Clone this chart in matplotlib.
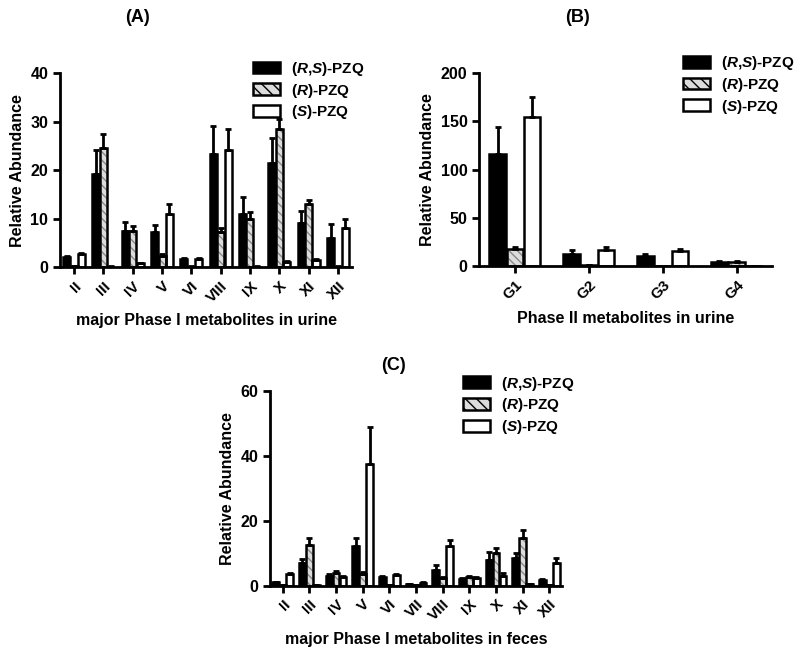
import numpy as np
import matplotlib.pyplot as plt
from matplotlib.patches import Patch

plt.rcParams['font.family'] = ['Liberation Sans', 'DejaVu Sans']
plt.rcParams['font.weight'] = 'bold'
plt.rcParams['axes.labelweight'] = 'bold'
plt.rcParams['mathtext.fontset'] = 'custom'
plt.rcParams['mathtext.it'] = 'Liberation Sans:italic:bold'
plt.rcParams['mathtext.rm'] = 'Liberation Sans:bold'

series = ['($\\it{R}$,$\\it{S}$)-PZQ', '($\\it{R}$)-PZQ', '($\\it{S}$)-PZQ']

# (A) major Phase I metabolites in urine
cats_a = ['II', 'III', 'IV', 'V', 'VI', 'VIII', 'IX', 'X', 'XI', 'XII']
rs_a = [2.0, 19.2, 7.4, 7.2, 1.6, 23.3, 11.0, 21.5, 9.1, 6.1]
rs_a_err = [0.3, 5.0, 2.0, 1.4, 0.2, 5.7, 3.5, 5.2, 2.4, 2.8]
r_a = [0.2, 24.5, 7.4, 2.2, 0.1, 7.3, 10.0, 28.5, 13.0, 0.1]
r_a_err = [0.1, 3.0, 1.0, 0.5, 0.1, 0.8, 1.3, 2.0, 0.8, 0.1]
s_a = [2.7, 0.1, 0.8, 11.0, 1.7, 24.2, 0.1, 1.1, 1.4, 8.1]
s_a_err = [0.3, 0.1, 0.1, 2.0, 0.2, 4.3, 0.1, 0.2, 0.2, 1.8]

# (B) Phase II metabolites in urine
cats_b = ['G1', 'G2', 'G3', 'G4']
rs_b = [116, 13, 11, 4.5]
rs_b_err = [28, 4, 2, 1.0]
r_b = [18.5, 1.5, 0.5, 4.5]
r_b_err = [2, 0.3, 0.2, 0.8]
s_b = [155, 17, 15.5, 0.3]
s_b_err = [20, 3.5, 2.5, 0.1]

# (C) major Phase I metabolites in feces
cats_c = ['II', 'III', 'IV', 'V', 'VI', 'VII', 'VIII', 'IX', 'X', 'XI', 'XII']
rs_c = [1.0, 6.9, 3.1, 12.1, 2.6, 0.4, 4.9, 2.1, 8.0, 8.5, 1.8]
rs_c_err = [0.2, 1.2, 0.5, 2.7, 0.3, 0.1, 1.3, 0.3, 2.3, 1.5, 0.3]
r_c = [0.1, 12.4, 3.9, 3.6, 0.1, 0.1, 2.3, 2.6, 10.0, 14.7, 0.1]
r_c_err = [0.1, 2.3, 0.7, 0.5, 0.1, 0.1, 0.5, 0.4, 1.5, 2.3, 0.1]
s_c = [3.6, 0.1, 2.6, 37.6, 3.4, 0.9, 12.1, 2.3, 2.9, 0.5, 7.0]
s_c_err = [0.3, 0.1, 0.5, 11.4, 0.3, 0.1, 2.0, 0.3, 0.9, 0.1, 1.5]

HATCH_FC = '#dcdcdc'
HATCH_C = '#8a8a8a'


def panel(ax, cats, rs, rse, r, re, s, se, width, ymax, yticks, xlabel, legpos):
    x = np.arange(len(cats))
    off = width * 1.05
    lw = 1.8
    ek = dict(ecolor='black', elinewidth=2.0, capsize=2.5, capthick=2.0)
    z = np.zeros(len(cats))
    ax.bar(x - off, rs, width, color='black', edgecolor='black', linewidth=lw,
           yerr=[z, rse], error_kw=ek, zorder=2)
    ax.bar(x, r, width, color=HATCH_FC, edgecolor=HATCH_C, linewidth=0, hatch='\\\\\\\\', zorder=2)
    ax.bar(x, r, width, color='none', edgecolor='black', linewidth=lw,
           yerr=[z, re], error_kw=ek, zorder=3)
    ax.bar(x + off, s, width, color='white', edgecolor='black', linewidth=lw,
           yerr=[z, se], error_kw=ek, zorder=2)
    ax.set_xlim(-0.48, len(cats) - 0.52)
    ax.set_ylim(0, ymax)
    ax.set_yticks(yticks)
    ax.set_xticks(x)
    ax.set_xticklabels(cats, rotation=45, ha='right', rotation_mode='anchor', fontsize=11)
    ax.tick_params(axis='y', labelsize=11.5, width=2, length=5)
    ax.tick_params(axis='x', width=2, length=5)
    for sp in ['top', 'right']:
        ax.spines[sp].set_visible(False)
    for sp in ['left', 'bottom']:
        ax.spines[sp].set_linewidth(2)
    ax.set_ylabel('Relative Abundance', fontsize=11.5, labelpad=4)
    ax.set_xlabel(xlabel, fontsize=11.5, labelpad=6)
    handles = [Patch(facecolor='black', edgecolor='black', linewidth=lw),
               Patch(facecolor=HATCH_FC, edgecolor='black', linewidth=lw, hatch='\\\\\\'),
               Patch(facecolor='white', edgecolor='black', linewidth=lw)]
    ax.legend(handles, series, loc='upper left', bbox_to_anchor=legpos,
              frameon=False, fontsize=11, handlelength=1.8, handleheight=0.8,
              labelspacing=0.25, handletextpad=0.7, borderaxespad=0)


fig = plt.figure(figsize=(8, 6.58), dpi=100)
ax_a = fig.add_axes([0.075, 0.594, 0.365, 0.295])
ax_b = fig.add_axes([0.599, 0.595, 0.366, 0.294])
ax_c = fig.add_axes([0.3375, 0.110, 0.365, 0.296])

panel(ax_a, cats_a, rs_a, rs_a_err, r_a, r_a_err, s_a, s_a_err, 0.24, 40,
      [0, 10, 20, 30, 40], 'major Phase I metabolites in urine', (0.64, 1.10))
panel(ax_b, cats_b, rs_b, rs_b_err, r_b, r_b_err, s_b, s_b_err, 0.22, 200,
      [0, 50, 100, 150, 200], 'Phase II metabolites in urine', (0.675, 1.13))
panel(ax_c, cats_c, rs_c, rs_c_err, r_c, r_c_err, s_c, s_c_err, 0.25, 60,
      [0, 20, 40, 60], 'major Phase I metabolites in feces', (0.64, 1.115))

fig.text(137 / 800, 1 - 17 / 658, '(A)', ha='center', va='center', fontsize=13, fontweight='bold')
fig.text(578 / 800, 1 - 17 / 658, '(B)', ha='center', va='center', fontsize=13, fontweight='bold')
fig.text(393 / 800, 1 - 366 / 658, '(C)', ha='center', va='center', fontsize=13, fontweight='bold')

fig.savefig('out.png', dpi=100)
